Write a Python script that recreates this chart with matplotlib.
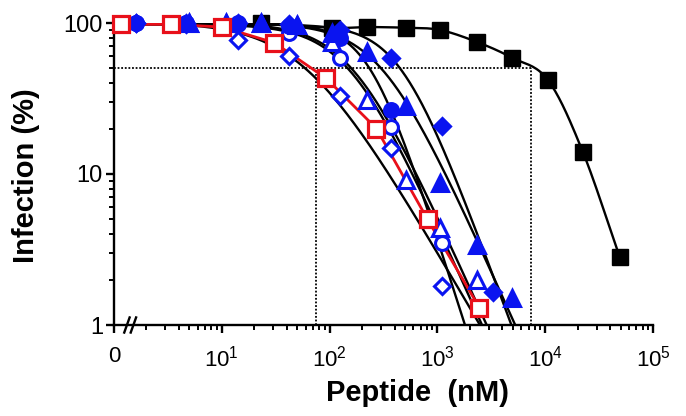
import numpy as np
import matplotlib.pyplot as plt

plt.rcParams['font.family'] = ['Liberation Sans', 'DejaVu Sans']
plt.rcParams['mathtext.fontset'] = 'custom'
plt.rcParams['mathtext.rm'] = 'Liberation Sans'

# ---- data (peptide nM, infection %) ----
dose_3fold = [1.6, 4.7, 14, 42, 125, 370, 1100, 3300]
dose_2fold = [5, 11, 23, 50, 106, 224, 506, 1048, 2313, 4896]

ctrl_x = [23, 106, 224, 506, 1048, 2313, 4896, 10570, 22350, 49330]
ctrl_y = [100, 93, 94, 93, 90, 75, 59, 42, 14, 2.8]

red_x = [1.16, 3.4, 10.1, 30.7, 93, 272, 811, 2457]
red_y = [98, 98, 94, 74, 43, 20, 5.0, 1.3]

open_circ_y = [100, 100, 98, 86, 58.7, 20.5, 3.5]
open_diam_y = [100, 98, 77, 60, 33, 14.9, 1.8]
fill_circ_y = [100, 100, 100, 96, 80, 26.5]
fill_diam_y = [100, 100, 100, 98, 90, 58.7, 20.8, 1.65]

open_tri_y = [100, 100, 100, 97, 75, 31, 9.1, 4.4, 2.0]
fill_tri_y = [100, 100, 100, 97, 86, 64, 28, 8.7, 3.4, 1.5]

ic50_low, ic50_high = 74, 7350
x_ticks = [1, 10, 100, 1e3, 1e4, 1e5]
x_ticklabels = ['0', r'$\mathregular{10^1}$', r'$\mathregular{10^2}$',
                r'$\mathregular{10^3}$', r'$\mathregular{10^4}$', r'$\mathregular{10^5}$']
y_ticks = [1, 10, 100]
y_ticklabels = ['1', '10', '100']

BLUE = '#0a14f0'
RED = '#e8101a'


def fit_curve(x, y):
    """Sigmoid (Hill) fit in log space, top kept close to 100 %."""
    x = np.asarray(x, float)
    y = np.asarray(y, float)
    lx, ly = np.log10(x), np.log10(y)
    best = None
    for top in np.linspace(98, 102, 17):
        m = y < 0.97 * top
        h, c = np.polyfit(lx[m], np.log10(top / y[m] - 1), 1)
        pred = top / (1 + 10 ** (h * lx + c))
        err = np.sum((np.log10(pred) - ly) ** 2)
        if best is None or err < best[0]:
            best = (err, top, h, c)
    return best[1:]


def draw_fit(ax, x, y, x_end):
    top, h, c = fit_curve(x, y)
    xs = np.logspace(np.log10(min(x)), np.log10(x_end), 400)
    ax.plot(xs, top / (1 + 10 ** (h * np.log10(xs) + c)), color='black',
            lw=1.7, zorder=2)


def smooth_through(x, y, n=20):
    """Catmull-Rom curve through the points, in log-log space."""
    p = np.column_stack([np.log10(x), np.log10(y)])
    p = np.vstack([2 * p[0] - p[1], p, 2 * p[-1] - p[-2]])
    t = np.linspace(0, 1, n)[:, None]
    out = []
    for i in range(1, len(p) - 2):
        p0, p1, p2, p3 = p[i - 1], p[i], p[i + 1], p[i + 2]
        seg = 0.5 * ((2 * p1) + (-p0 + p2) * t + (2 * p0 - 5 * p1 + 4 * p2 - p3) * t ** 2
                     + (-p0 + 3 * p1 - 3 * p2 + p3) * t ** 3)
        out.append(seg)
    out = np.vstack(out)
    return 10 ** out[:, 0], 10 ** out[:, 1]


fig = plt.figure(figsize=(6.86, 4.16), dpi=100)
ax = fig.add_axes([114 / 686, 91 / 416, 539 / 686, 302 / 416])
ax.set_xscale('log')
ax.set_yscale('log')
ax.set_xlim(1, 1e5)
ax.set_ylim(1, 100)

# reference dotted lines (50% and the two IC50 values)
dot = dict(color='black', lw=1.3, ls=(0, (1, 1)), zorder=1)
ax.plot([1, ic50_high], [50, 50], **dot)
ax.plot([ic50_low, ic50_low], [1, 50], **dot)
ax.plot([ic50_high, ic50_high], [1, 50], **dot)

# control: smooth line through its points
cx, cy = smooth_through(ctrl_x, ctrl_y)
ax.plot(cx, cy, color='black', lw=1.7, zorder=2)

# fitted curves for the blue peptides
blue_sets = [
    (dose_3fold[:len(open_circ_y)], open_circ_y, 'o', 'white', 10),
    (dose_3fold[:len(open_diam_y)], open_diam_y, 'D', 'white', 8.5),
    (dose_3fold[:len(fill_circ_y)], fill_circ_y, 'o', BLUE, 10),
    (dose_3fold[:len(fill_diam_y)], fill_diam_y, 'D', BLUE, 8.5),
    (dose_2fold[:len(open_tri_y)], open_tri_y, '^', 'white', 11),
    (dose_2fold[:len(fill_tri_y)], fill_tri_y, '^', BLUE, 11),
]
for x, y, mk, fc, ms in blue_sets:
    draw_fit(ax, x, y, 1e4)

# red series joined point to point
ax.plot(red_x, red_y, color=RED, lw=2, zorder=3)

# markers
ax.plot(ctrl_x, ctrl_y, ls='none', marker='s', ms=11.5, color='black',
        zorder=4, clip_on=False)
for x, y, mk, fc, ms in blue_sets:
    ax.plot(x, y, ls='none', marker=mk, ms=ms, mfc=fc, mec=BLUE, mew=2.2,
            zorder=5, clip_on=False)
ax.plot(red_x, red_y, ls='none', marker='s', ms=11, mfc='white', mec=RED,
        mew=2.3, zorder=6, clip_on=False)

# axes styling
for side in ['top', 'right']:
    ax.spines[side].set_visible(False)
for side in ['left', 'bottom']:
    ax.spines[side].set_linewidth(1.7)
ax.set_xticks(x_ticks)
ax.set_xticklabels(x_ticklabels, fontsize=16)
ax.set_yticks(y_ticks)
ax.set_yticklabels(y_ticklabels, fontsize=17)
ax.tick_params(which='major', length=6, width=1.7, direction='out')
ax.tick_params(which='minor', length=3.5, width=1.4, direction='out')
ax.tick_params(axis='x', pad=9)
ax.tick_params(axis='y', pad=2)

# axis break marks near zero
for xb in [0.024, 0.036]:
    ax.plot([xb - 0.005, xb + 0.005], [-0.025, 0.025], transform=ax.transAxes,
            color='black', lw=1.7, clip_on=False, zorder=7)

ax.set_xlabel('Peptide  (nM)', fontsize=21, fontweight='bold')
ax.xaxis.set_label_coords(0.564, -0.225)
ax.xaxis.label.set_va('center')
ax.set_ylabel('Infection (%)', fontsize=21, fontweight='bold')
ax.yaxis.set_label_coords(-0.163, 0.493)
ax.yaxis.label.set_va('center')

fig.savefig('out.png', dpi=100)
